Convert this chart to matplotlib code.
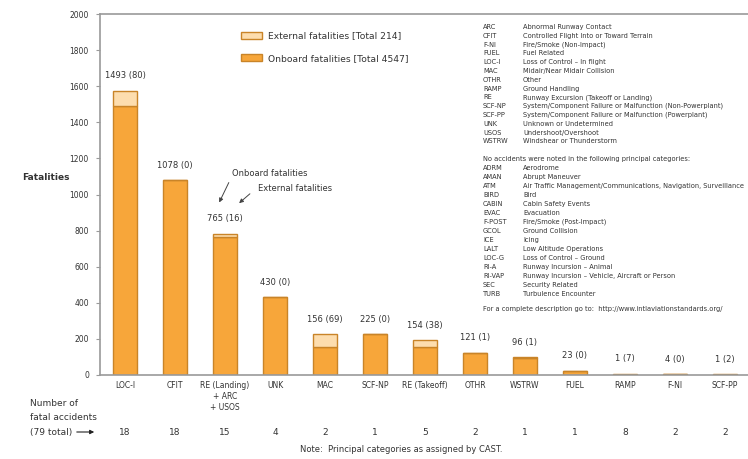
import numpy as np
import matplotlib
matplotlib.use("Agg")
import matplotlib.pyplot as plt
from matplotlib.patches import Patch

# Data
categories = ["LOC-I", "CFIT", "RE (Landing)\n+ ARC\n+ USOS", "UNK", "MAC", "SCF-NP",
              "RE (Takeoff)", "OTHR", "WSTRW", "FUEL", "RAMP", "F-NI", "SCF-PP"]
onboard = [1493, 1078, 765, 430, 156, 225, 154, 121, 96, 23, 1, 4, 1]
external = [80, 0, 16, 0, 69, 0, 38, 1, 1, 0, 7, 0, 2]
accidents = [18, 18, 15, 4, 2, 1, 5, 2, 1, 1, 8, 2, 2]

abbrev_codes = ["ARC", "CFIT", "F-NI", "FUEL", "LOC-I", "MAC", "OTHR", "RAMP", "RE",
                "SCF-NP", "SCF-PP", "UNK", "USOS", "WSTRW"]
abbrev_names = ["Abnormal Runway Contact", "Controlled Flight Into or Toward Terrain",
                "Fire/Smoke (Non-Impact)", "Fuel Related", "Loss of Control \u2013 In flight",
                "Midair/Near Midair Collision", "Other", "Ground Handling",
                "Runway Excursion (Takeoff or Landing)",
                "System/Component Failure or Malfunction (Non-Powerplant)",
                "System/Component Failure or Malfunction (Powerplant)",
                "Unknown or Undetermined", "Undershoot/Overshoot", "Windshear or Thunderstorm"]
none_codes = ["ADRM", "AMAN", "ATM", "BIRD", "CABIN", "EVAC", "F-POST", "GCOL", "ICE",
              "LALT", "LOC-G", "RI-A", "RI-VAP", "SEC", "TURB"]
none_names = ["Aerodrome", "Abrupt Maneuver",
              "Air Traffic Management/Communications, Navigation, Surveillance",
              "Bird", "Cabin Safety Events", "Evacuation", "Fire/Smoke (Post-Impact)",
              "Ground Collision", "Icing", "Low Altitude Operations",
              "Loss of Control \u2013 Ground", "Runway Incursion \u2013 Animal",
              "Runway Incursion \u2013 Vehicle, Aircraft or Person", "Security Related",
              "Turbulence Encounter"]

onboard_color = "#F7A63A"
external_color = "#FDDDAE"
edge_color = "#C98428"
text_color = "#333333"
axis_color = "#9a9a9a"

W, H = 748, 459
fig = plt.figure(figsize=(W / 100, H / 100), dpi=100)
ax = fig.add_axes([100 / W, 1 - 375 / H, 648 / W, 361 / H])

x = np.arange(len(categories))
ax.bar(x, onboard, width=0.48, color=onboard_color, edgecolor=edge_color, linewidth=1.0)
ax.bar(x, external, width=0.48, bottom=onboard, color=external_color,
       edgecolor=edge_color, linewidth=1.0)

for i in range(len(categories)):
    ax.annotate(f"{onboard[i]} ({external[i]})", (x[i], onboard[i] + external[i]),
                xytext=(0, 11), textcoords="offset points", ha="center", va="center",
                fontsize=6, color=text_color)
    ax.text(x[i], -0.158, str(accidents[i]), transform=ax.get_xaxis_transform(),
            ha="center", va="center", fontsize=6.5, color=text_color)

ax.set_xlim(-0.5, 12.46)
ax.set_ylim(0, 2000)
ax.set_yticks(np.arange(0, 2001, 200))
ax.set_xticks(x)
ax.set_xticklabels(categories, fontsize=5.5, color=text_color, linespacing=1.3)
ax.tick_params(axis="x", length=0, pad=4)
ax.tick_params(axis="y", labelsize=5.5, labelcolor=text_color, length=3,
               color=axis_color, pad=5)
for side in ["top", "left", "bottom"]:
    ax.spines[side].set_color(axis_color)
    ax.spines[side].set_linewidth(1.2)
ax.spines["right"].set_visible(False)

# legend
handles = [Patch(facecolor=external_color, edgecolor=edge_color, label="External fatalities [Total 214]"),
           Patch(facecolor=onboard_color, edgecolor=edge_color, label="Onboard fatalities [Total 4547]")]
leg = ax.legend(handles=handles, loc="upper left", bbox_to_anchor=(0.205, 0.975), frameon=False,
                fontsize=6.6, handlelength=2.3, handleheight=0.8, labelspacing=1.5,
                handletextpad=0.6)
for t in leg.get_texts():
    t.set_color(text_color)

# arrows pointing at RE (Landing) label
arrow = dict(arrowstyle="-|>", color="#444444", lw=0.7, mutation_scale=6)
ax.annotate("", xy=(1.86, 942), xytext=(2.1, 1080), arrowprops=arrow)
ax.annotate("", xy=(2.24, 942), xytext=(2.54, 1014), arrowprops=arrow)
ax.text(2.14, 1119, "Onboard fatalities", fontsize=6, color=text_color, va="center")
ax.text(2.66, 1036, "External fatalities", fontsize=6, color=text_color, va="center")

def fx(px):
    return px / W

def fy(py):
    return 1 - py / H

fig.text(fx(22), fy(178), "Fatalities", fontsize=6.5, fontweight="bold", color=text_color,
         va="center")
fig.text(fx(30), fy(403), "Number of", fontsize=6.5, color=text_color, va="center")
fig.text(fx(30), fy(417), "fatal accidents", fontsize=6.5, color=text_color, va="center")
fig.text(fx(30), fy(432), "(79 total)", fontsize=6.5, color=text_color, va="center")
fig.add_artist(matplotlib.patches.FancyArrowPatch((fx(74), fy(432)), (fx(97), fy(432)),
                                                  transform=fig.transFigure,
                                                  arrowstyle="-|>", mutation_scale=6,
                                                  color="#222222", lw=0.8))
fig.text(fx(300), fy(450), "Note:  Principal categories as assigned by CAST.", fontsize=6,
         color=text_color, va="center")

# abbreviation block
fs = 4.75
step = 8.8
for j, (c, n) in enumerate(zip(abbrev_codes, abbrev_names)):
    fig.text(fx(483), fy(27 + j * step), c, fontsize=fs, color=text_color, va="center")
    fig.text(fx(523), fy(27 + j * step), n, fontsize=fs, color=text_color, va="center")
fig.text(fx(483), fy(159), "No accidents were noted in the following principal categories:",
         fontsize=fs, color=text_color, va="center")
for j, (c, n) in enumerate(zip(none_codes, none_names)):
    fig.text(fx(483), fy(168 + j * 9), c, fontsize=fs, color=text_color, va="center")
    fig.text(fx(523), fy(168 + j * 9), n, fontsize=fs, color=text_color, va="center")
fig.text(fx(483), fy(309), "For a complete description go to:  http://www.intlaviationstandards.org/",
         fontsize=fs, color=text_color, va="center")

fig.savefig("out.png", dpi=100)
